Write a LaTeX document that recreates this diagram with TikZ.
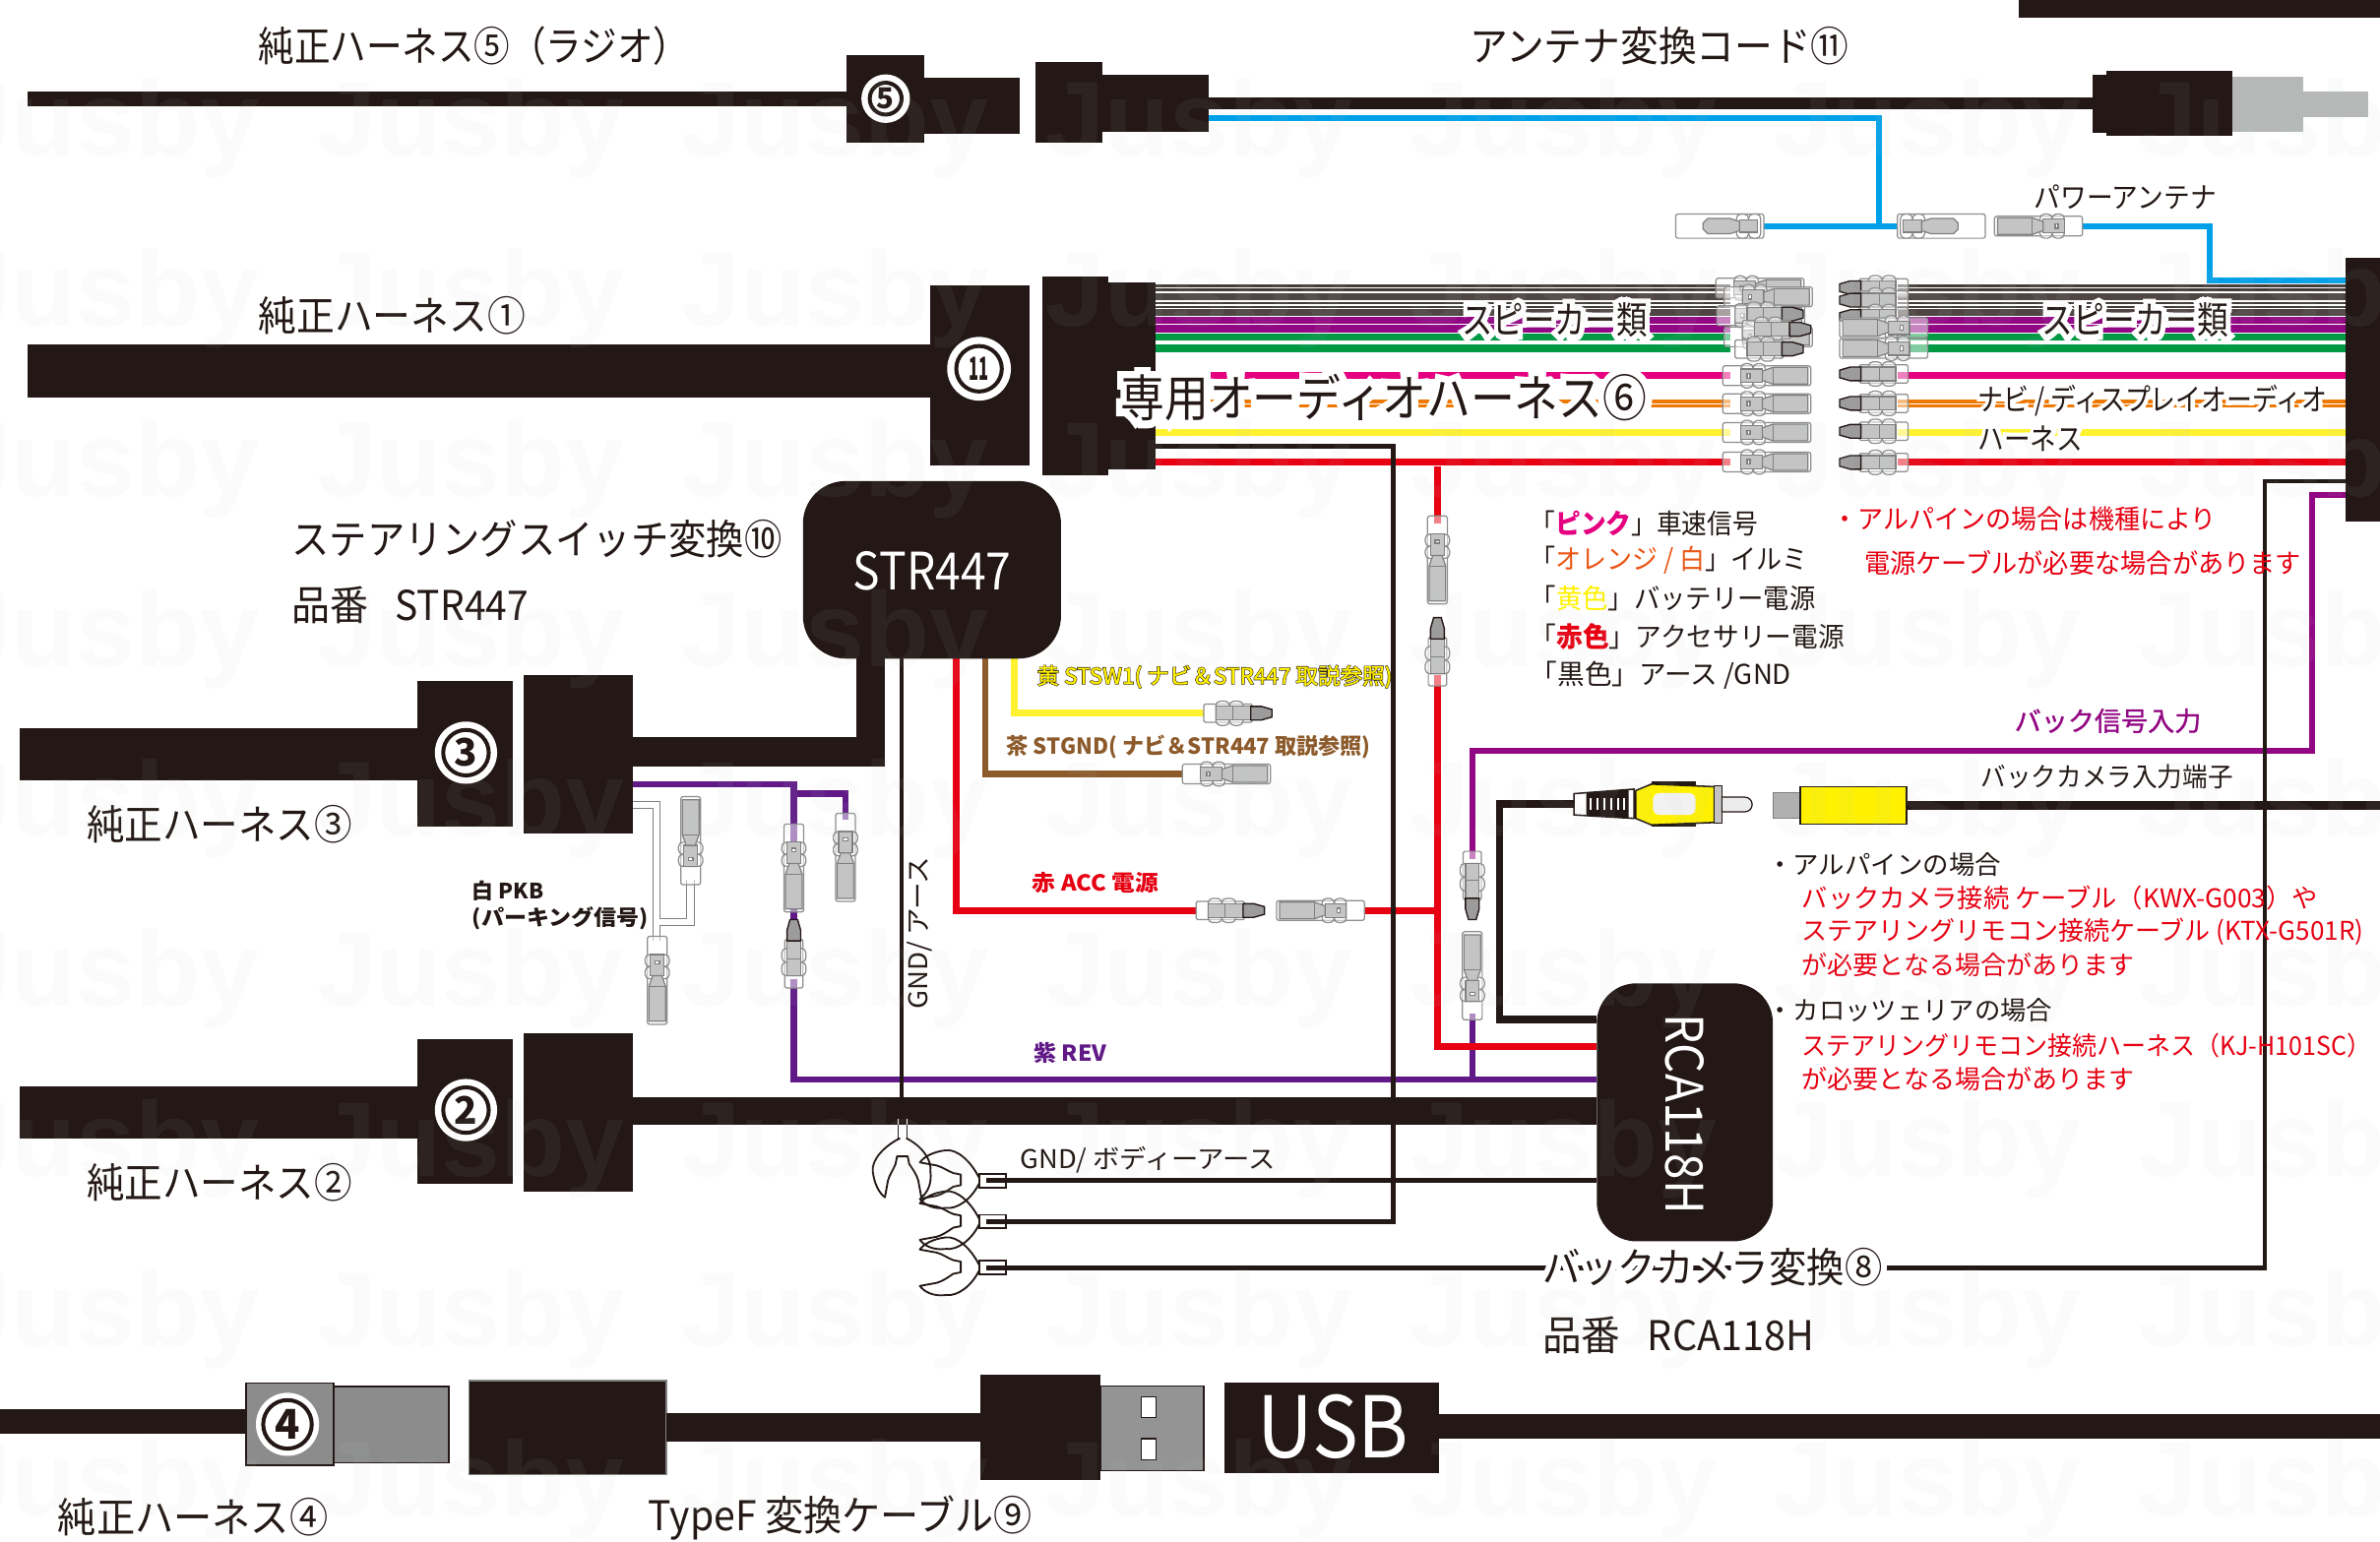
\documentclass[tikz,border=0pt]{standalone}
\usepackage{graphicx}
\usepackage{fontspec}
\setmainfont{Noto Sans CJK JP}
\newfontfamily\halofont[FakeBold=30]{Noto Sans CJK JP}
\newfontfamily\edgefont[FakeBold=6]{Noto Sans CJK JP}
\newfontfamily\medfont[FakeBold=1]{Noto Sans CJK JP}
\newfontfamily\wmfont{Liberation Sans}
\definecolor{ink}{HTML}{231815}
\definecolor{bl}{HTML}{00A0E9}
\definecolor{pu}{HTML}{920783}
\definecolor{dp}{HTML}{601986}
\definecolor{gr}{HTML}{009944}
\definecolor{pk}{HTML}{E4007F}
\definecolor{og}{HTML}{EE7700}
\definecolor{og2}{HTML}{EA5514}
\definecolor{ye}{HTML}{FFF231}
\definecolor{ye2}{HTML}{FFF100}
\definecolor{re}{HTML}{E60012}
\definecolor{br}{HTML}{8C5A2B}
\definecolor{cg}{HTML}{C4C4C4}
\definecolor{cl}{HTML}{8E8E8E}
\definecolor{md}{HTML}{9C9C9C}
\definecolor{pl}{HTML}{B5B8B6}
\newcommand\lab[8][]{\node[anchor=west,inner sep=0pt,text=#7,#1] (#2) at (#3,#4) {\fontsize{#5}{#5}\selectfont\resizebox{#6pt}{\height}{#8}};}
\newcommand\halo[1]{\rlap{\color{white}\halofont #1}#1}
\newcommand\edge[1]{\rlap{\color{ink}\edgefont #1}{\medfont #1}}
\newcommand\bx[6][fill=ink]{\pgfmathsetmacro\bw{#5-#3}\pgfmathsetmacro\bh{#6-#4}\node[#1,inner sep=0pt,outer sep=0pt,minimum width=\bw pt,minimum height=\bh pt] (#2) at ({(#3+#5)/2},{(#4+#6)/2}) {};}
\newcommand\cnum[6]{\fill[white] (#2,#3) circle (#4);\node[circle,draw=ink,line width=2.6pt,inner sep=0pt,minimum size=#5pt,font=\fontsize{#6}{#6}\selectfont\bfseries,text=ink] (#1) at (#2,#3) {\ifnum#1=11 \resizebox{13pt}{\height}{11}\else #1\fi};}
\newcommand\fem[3]{\pic[rotate=#3] at (#1,#2) {femc};}
\newcommand\femw[3]{\pic[rotate=#3] at (#1,#2) {femwc};}
\newcommand\mal[3]{\pic[rotate=#3] at (#1,#2) {malc};}
\tikzset{
 cline/.style={draw=cl,line width=.8pt},
 femc/.pic={
  \path[cline,fill=white,fill opacity=.5,rounded corners=1.5pt] (0,-6.5) rectangle (58,6.5);
  \path[cline,fill=white,fill opacity=.5,rounded corners=3pt] (12,-8) rectangle (20,8);
  \path[cline,fill=white,fill opacity=.5,rounded corners=3pt] (20,-8) rectangle (28,8);
  \path[draw=gray,line width=.8pt,fill=cg] (12,-4.5) rectangle (26,4.5);
  \path[draw=gray,line width=.8pt,fill=white] (16,-1.5) rectangle (18,1.5);
  \path[draw=gray,line width=.8pt,fill=cg] (26,-3) -- (33,-5.5) -- (56,-5.5) -- (56,5.5) -- (33,5.5) -- (26,3) -- cycle;
  \draw[gray,line width=.6pt] (33,-5.5) -- (33,5.5);
 },
 femwc/.pic={
  \path[cline,fill=white,fill opacity=.5,rounded corners=1.5pt] (0,-8) rectangle (58,8);
  \path[cline,fill=white,fill opacity=.5,rounded corners=3pt] (2,-8) rectangle (10,8);
  \path[cline,fill=white,fill opacity=.5,rounded corners=3pt] (10,-8) rectangle (18,8);
  \path[draw=gray,line width=.8pt,fill=cg] (4,-4) rectangle (16,4);
  \path[draw=gray,line width=.8pt,fill=cg] (16,-3) -- (22,-5) -- (37,-5) -- (40,-2) -- (40,2) -- (37,5) -- (22,5) -- (16,3) -- cycle;
 },
 malc/.pic={
  \path[cline,fill=white,fill opacity=.5,rounded corners=1pt] (0,-6) rectangle (32,6);
  \path[cline,fill=white,fill opacity=.5,rounded corners=3pt] (8,-8) rectangle (17,8);
  \path[cline,fill=white,fill opacity=.5,rounded corners=3pt] (17,-8) rectangle (26,8);
  \path[draw=gray,line width=.8pt,fill=cg] (8,-4.5) rectangle (31,4.5);
  \draw[gray,line width=.6pt] (19,-4.5) -- (19,4.5);
  \path[draw=ink,line width=.9pt,fill=md] (31,-4.5) -- (38,-4.5) -- (45,-2.5) -- (45,2.5) -- (38,4.5) -- (31,4.5) -- cycle;
 },
 forkc/.pic={
  \draw[ink,line width=1.2pt,line join=round] (-2,0) .. controls (-12,5) and (-21,14) .. (-20,22) .. controls (-19,30) and (-16,36) .. (-12,39) -- (-10,28) .. controls (-9,24) and (-6,20) .. (-5,17) -- (-4,12) -- (3,12) -- (4,17) .. controls (6,20) and (9,24) .. (10,28) -- (12,39) .. controls (16,36) and (19,30) .. (18,22) .. controls (19,14) and (12,5) .. (2,0);
 }
}
\begin{document}
\begin{tikzpicture}[x=1pt,y=-1pt]
\useasboundingbox (0,0) rectangle (1568,1015.5);
\fill[white] (0,0) rectangle (1568,1015.5);

% ---- named wire ends
\coordinate (strYe) at (668,434); \coordinate (strBr) at (649,434); \coordinate (strRe) at (630,434); \coordinate (strBk) at (594,434);
\coordinate (jR) at (947,600);
\coordinate (c1) at (1162,149); \coordinate (c2) at (1250,149); \coordinate (c3) at (1372,149);
\coordinate (cYe) at (793,470); \coordinate (cBr) at (779,510);
\coordinate (cAcc) at (788,600); \coordinate (cAcc2) at (899,600);
\coordinate (tA) at (663,778); \coordinate (tB) at (663,805); \coordinate (tC) at (663,835.4);

% ---- black bodies
\bx{topbar}{1330}{0}{1568}{11.5}
\bx{h5}{18}{60}{558}{70}
\bx{h5a}{558}{36}{609}{94}
\bx{h5b}{609}{51}{672}{88}
\bx{a1}{682}{41}{726}{94}
\bx{a2}{726}{49}{796}{87}
\bx{aline}{796}{64}{1380}{72}
\bx{a3}{1378.5}{49.2}{1388}{87.5}
\bx{a4}{1388}{46.7}{1471}{89.8}
\bx[fill=pl]{a5}{1471}{50.8}{1517.3}{86.8}
\bx[fill=pl]{a6}{1517.3}{60.5}{1560}{77}
\bx{h1}{18}{227}{613}{262}
\bx{h1a}{613}{188}{678}{307}
\bx{b1}{687}{182}{730}{313}
\bx{b2}{729}{186}{761}{309}
\bx{rbar}{1545}{170}{1568}{344}
\bx{h3}{13}{480}{275}{514}
\bx{h3a}{275}{449}{338}{545}
\bx{h3b}{345}{445}{417}{549}
\bx{l3a}{417}{486}{583}{505}
\bx{l3b}{564}{430}{583}{505}
\bx{h2}{13}{716}{275}{750}
\bx{h2a}{275}{685}{338}{780}
\bx{h2b}{345}{681}{417}{785}

% ---- signal wires
\draw[dp,line width=4pt] (417,517) -- (523,517) -- (523,606);
\draw[dp,line width=4pt] (523,523) -- (557,523) -- (557,540);
\draw[dp,line width=4pt] (523,645) -- (523,711.5) -- (1052,711.5);
\draw[dp,line width=4pt] (970,668) -- (970,711.5);
\draw[pu,line width=4pt] (1545,326) -- (1523,326) -- (1523,495) -- (970,495) -- (970,566);
\draw[re,line width=4.4pt] (strRe) -- (630,600) -- (cAcc);
\draw[re,line width=4.4pt] (cAcc2) -- (jR);
\draw[re,line width=4.4pt] (947,305) -- (947,345);
\draw[re,line width=4.4pt] (947,445) -- (947,689.5) -- (1052,689.5);
\draw[ye,line width=4.4pt] (strYe) -- (668,470) -- (cYe);
\draw[br,line width=4pt] (strBr) -- (649,510) -- (cBr);
\draw[bl,line width=4pt] (796,78) -- (1238,78) -- (1238,149);
\draw[bl,line width=4pt] (c1) -- (c2);
\draw[bl,line width=4pt] (c3) -- (1456,149) -- (1456,185) -- (1545,185);
% white PKB wire
\draw[gray,line width=5.6pt] (417,530.5) -- (432.6,530.5) -- (432.6,620);
\draw[gray,line width=5.6pt] (432.6,607.6) -- (455,607.6) -- (455,580);
\draw[white,line width=4.2pt] (417,530.5) -- (432.6,530.5) -- (432.6,620);
\draw[white,line width=4.2pt] (432.6,607.6) -- (455,607.6) -- (455,580);

% harness 2 run over the purple
\bx{l2}{417}{723}{1052}{741.5}

% audio wires, left and right
\foreach \y/\c/\w in {189.8/ink!85/4.2,195.6/ink!80/4.6,201/ink!85/4.2,205.7/ink!80/4.6,211/pu/4.6,216.6/pu/4.6,222/gr/4.4,229.6/gr/4.8,247.6/pk/4.4,266/og/5,285/ye/5,304.4/re/5}{
 \draw[white,line width=\w pt+1.2pt] (761,\y) -- (1140,\y);
 \draw[\c,line width=\w pt] (761,\y) -- (1140,\y);
 \draw[white,line width=\w pt+1.2pt] (1250,\y) -- (1545,\y);
 \draw[\c,line width=\w pt] (1250,\y) -- (1545,\y);
}
\foreach \y in {189.8,201,266}{
 \draw[white,line width=.9pt] (761,\y) -- (1140,\y);
 \draw[white,line width=.9pt] (1250,\y) -- (1545,\y);
}

% black ground wires
\draw[ink,line width=3pt] (strBk) -- (594,737);
\draw[ink,line width=3.6pt,line join=miter] (761,294) -- (918,294) -- (918,805) -- (tB);
\draw[ink,line width=3pt] (tA) -- (1052,778);
\draw[ink,line width=3pt] (tC) -- (1492,835.4) -- (1492,317) -- (1545,317);
\draw[ink,line width=5pt] (1037,530) -- (988,530) -- (988,672) -- (1052,672);

% ---- connectors
\fem{1130.5}{189.8}{0} \fem{1136}{195.6}{0} \fem{1131}{208}{0} \fem{1136}{222}{0}
\mal{1143}{207}{0} \mal{1148}{217}{0} \mal{1143}{230}{0}
\fem{1135}{247.6}{0} \fem{1135}{266}{0} \fem{1135}{285}{0} \fem{1135}{304.4}{0}
\mal{1257}{189.6}{180} \mal{1257}{197.8}{180} \mal{1257}{208.6}{180}
\fem{1270}{216}{180} \fem{1270}{229.6}{180}
\mal{1257}{246.4}{180} \mal{1257}{265.8}{180} \mal{1257}{284.2}{180} \mal{1257}{304.7}{180}
\femw{1162}{149}{180} \femw{1250}{149}{0} \fem{1372}{149}{180}
\mal{793}{470}{0} \fem{779}{510}{0}
\mal{788}{600}{0} \fem{899}{600}{180}
\fem{947}{340}{-90} \mal{947}{452}{90}
\fem{557}{536}{-90} \fem{523}{543}{-90} \mal{523}{651}{90}
\fem{455}{583}{90} \fem{433}{617}{-90}
\fem{970}{672}{90} \mal{970}{561}{-90}

% ---- RCA plug and socket
\draw[ink,line width=1pt,fill=white] (1037,523) -- (1076.5,520) -- (1076.5,539.3) -- (1037,537) -- cycle;
\fill[ink] (1045,522.4) -- (1073,520.3) -- (1073,539) -- (1045,537.5) -- cycle;
\foreach \x in {1048,1052.5,1057,1061.5,1066,1070}{\fill[white] (\x-.8,526) rectangle (\x+.8,534);}
\fill[ink] (1088,515) rectangle (1117,545);
\draw[ink,line width=1pt,fill=ye2] (1077.6,521) -- (1088,516.7) -- (1129.4,518.4) -- (1129.4,542) -- (1088,543.6) -- (1077.6,539.3) -- cycle;
\node[draw=none,fill=white!90!gray,rounded corners=4pt,inner sep=0pt,minimum width=28pt,minimum height=14.3pt] (rcaw) at (1103,529.8) {};
\node[draw=ink,line width=.8pt,fill=cg,inner sep=0pt,minimum width=5pt,minimum height=24.8pt] (rcac) at (1131.9,530) {};
\draw[ink,line width=.8pt,fill=white!85!gray] (1134.4,525.3) -- (1149.5,525.3) arc (-90:90:4.85) -- (1134.4,535) -- cycle;
\bx[draw=gray,line width=.6pt,fill=md!80!white]{rsk}{1168}{522}{1186}{539}
\bx[draw=ink,line width=1pt,fill=ye2]{rsy}{1186}{518.4}{1256}{543}
\draw[ink,line width=5.5pt] (rsy.east) -- (1568,530.7);

% ---- STR447 and RCA118H
\node[fill=ink,rounded corners=28pt,inner sep=0pt,minimum width=170pt,minimum height=117pt] (str) at (614,375.5) {};
\node[fill=ink,rounded corners=26pt,inner sep=0pt,minimum width=116pt,minimum height=170pt] (rca) at (1110,733) {};
\lab{tstr}{562}{376}{34}{104}{white}{STR447}
\lab[rotate=-90]{trca}{1110}{668}{34}{132}{white}{RCA118H}

% ---- ground terminals
\pic at (595,750) {forkc};
\draw[white,line width=.8pt] (591.5,737) -- (591.5,741.5) (597.5,737) -- (597.5,741.5);
\draw[ink,line width=.8pt] (591.5,741.5) -- (591.5,750) (597.5,741.5) -- (597.5,750);
\pic[rotate=-90] at (645,778) {forkc};
\pic[rotate=-90] at (645,805) {forkc};
\pic[rotate=-90] at (645,835.4) {forkc};
\draw[ink,line width=1.2pt,fill=white] (645,773.5) rectangle (663,782.5); \fill[ink] (650,776.5) rectangle (663,779.5);
\draw[ink,line width=1.2pt,fill=white] (645,800.5) rectangle (663,809.5); \fill[ink] (650,803.5) rectangle (663,806.5);
\draw[ink,line width=1.2pt,fill=white] (645,830.9) rectangle (663,839.9); \fill[ink] (650,833.9) rectangle (663,836.9);

% ---- bottom row
\bx{h4}{0}{928.5}{162}{945}
\bx[fill=black!45!white,draw=ink,line width=1pt]{h4g}{220}{913.8}{295.7}{964}
\bx[fill=black!45!white,draw=ink,line width=1pt]{h4a}{162}{911.4}{220}{965.6}
\bx[fill=ink,draw=gray,line width=1pt]{f1}{309}{909.7}{439}{971.7}
\bx{f2}{439}{931}{646}{950}
\bx[fill=md!95!black,draw=ink,line width=1pt]{ug}{725}{913.4}{793}{969}
\bx[fill=white,draw=ink,line width=.8pt]{us1}{752}{920.5}{761.7}{934}
\bx[fill=white,draw=ink,line width=.8pt]{us2}{752}{948}{761.7}{962}
\bx{f3}{646}{906}{725}{975}
\bx{ub}{807}{911}{948}{971}
\bx{ul}{948}{932}{1568}{948}
\lab{tusb}{828}{940}{56}{100}{white}{USB}

% ---- circled numbers
\cnum{5}{583.5}{65}{16}{21}{19}
\cnum{11}{645}{243}{21}{30}{21}
\cnum{3}{307}{496}{20.5}{30}{25}
\cnum{2}{307}{731.5}{20.5}{30}{25}
\cnum{4}{189.4}{938.6}{20.8}{32}{27}

% ---- labels
\lab{t1}{170}{30}{27}{284}{ink}{純正ハーネス⑤（ラジオ）}
\lab{t2}{968}{30}{27}{250}{ink}{アンテナ変換コード⑪}
\lab{t3}{170}{208}{27}{176}{ink}{純正ハーネス①}
\lab{t4}{192}{355}{27}{323}{ink}{ステアリングスイッチ変換⑩}
\lab{t5}{192}{399}{27}{156}{ink}{品番\hspace{.7em}STR447}
\lab{t6}{57}{543}{27}{175}{ink}{純正ハーネス③}
\lab{t7}{57}{779}{27}{175}{ink}{純正ハーネス②}
\lab{t8}{38}{1000}{27}{178}{ink}{純正ハーネス④}
\lab{t9}{427}{1000}{27}{253}{ink}{TypeF 変換ケーブル⑨}
\lab{t10}{1016}{880}{27}{179}{ink}{品番\hspace{.7em}RCA118H}
\lab{t11}{1016}{835}{27}{224}{ink}{\halo{バックカメラ変換⑧}}
\lab{t12}{1340}{130}{19}{120}{ink}{パワーアンテナ}
\lab{t13}{963}{211}{25}{122}{ink}{\halo{スピーカー類}}
\lab{t14}{1345}{211}{25}{123}{ink}{\halo{スピーカー類}}
\lab{t15}{738}{262}{33}{347}{ink}{\halo{専用オーディオハーネス⑥}}
\lab{t16}{1303}{264}{20}{230}{ink}{\halo{ナビ / ディスプレイオーディオ}}
\lab{t17}{1303}{289}{20}{69}{ink}{\halo{ハーネス}}
\lab{t18}{1008}{344.8}{18}{150}{ink}{「\textcolor{pk}{\bfseries ピンク}」車速信号}
\lab{t19}{1008}{369}{18}{183}{ink}{「\textcolor{og2}{オレンジ / 白}」イルミ}
\lab{t20}{1008}{394.5}{18}{188}{ink}{「\textcolor{ye2}{黄色}」バッテリー電源}
\lab{t21}{1008}{419.3}{18}{207}{ink}{「\textcolor{re}{\bfseries 赤色}」アクセサリー電源}
\lab{t22}{1008}{444.8}{18}{172}{ink}{「黒色」アース /GND}
\lab{t23}{1207}{342}{17.5}{253}{re}{・アルパインの場合は機種により}
\lab{t24}{1228}{371}{17.5}{288}{re}{電源ケーブルが必要な場合があります}
\lab{t25}{1327}{475}{17.5}{123}{pu}{\medfont バック信号入力}
\lab{t26}{1305}{512}{17.5}{166}{ink}{バックカメラ入力端子}
\lab{t27}{1164}{570}{17}{154}{ink}{・アルパインの場合}
\lab{t28}{1187}{592}{17}{340}{re}{バックカメラ接続 ケーブル（KWX-G003）や}
\lab{t29}{1187}{614}{17}{370}{re}{ステアリングリモコン接続ケーブル (KTX-G501R)}
\lab{t30}{1187}{636}{17}{219}{re}{が必要となる場合があります}
\lab{t31}{1164}{666}{17}{188}{ink}{・カロッツェリアの場合}
\lab{t32}{1187}{689}{17}{375}{re}{ステアリングリモコン接続ハーネス（KJ-H101SC）}
\lab{t33}{1187}{711}{17}{219}{re}{が必要となる場合があります}
\lab{t34}{683}{446}{14.5}{234}{ye2}{\edge{黄 STSW1( ナビ＆STR447 取説参照)}}
\lab{t35}{663}{492}{14.5}{240}{br}{\bfseries 茶 STGND( ナビ＆STR447 取説参照)}
\lab{t36}{680}{582}{14.5}{83}{re}{\bfseries 赤 ACC 電源}
\lab{t37}{681}{694}{14.5}{48}{dp}{\bfseries 紫 REV}
\lab{t38}{311}{587}{14}{47}{ink}{\bfseries 白 PKB}
\lab{t39}{311}{605}{14}{116}{ink}{\bfseries (パーキング信号)}
\lab{t40}{672}{764}{17}{168}{ink}{GND/ ボディーアース}
\lab[rotate=90]{t41}{606}{665}{17}{100}{ink}{GND/ アース}

% ---- watermark
\foreach \y in {85,197,309,421,533,645,757,869,981}{
 \foreach \x in {70,310,550,790,1030,1270,1510}{
  \node[inner sep=0pt,text={rgb,255:red,190;green,205;blue,198},text opacity=.07,font=\wmfont\bfseries\fontsize{70}{70}\selectfont] (wm\x y\y) at (\x,\y) {Jusby};
 }
}
\end{tikzpicture}
\end{document}
